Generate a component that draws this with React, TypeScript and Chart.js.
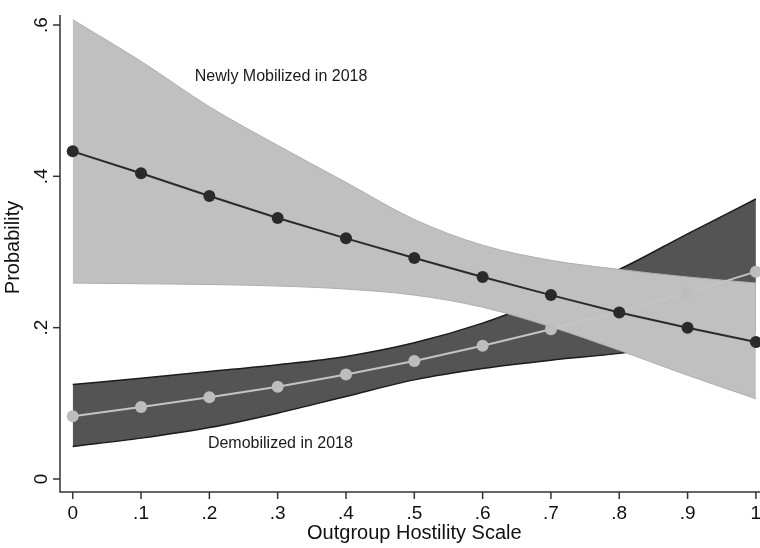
import React, { useEffect, useRef } from "react";
import { Chart, registerables } from "chart.js";

Chart.register(...registerables);

// ---- data ----
const xValues = [0, 0.1, 0.2, 0.3, 0.4, 0.5, 0.6, 0.7, 0.8, 0.9, 1];
const newlyMean = [0.433, 0.404, 0.374, 0.345, 0.318, 0.292, 0.267, 0.243, 0.22, 0.2, 0.181];
const newlyUpper = [0.607, 0.552, 0.492, 0.441, 0.392, 0.343, 0.309, 0.289, 0.277, 0.267, 0.259];
const newlyLower = [0.259, 0.258, 0.257, 0.255, 0.251, 0.243, 0.227, 0.201, 0.17, 0.137, 0.106];
const demobMean = [0.083, 0.095, 0.108, 0.122, 0.138, 0.156, 0.176, 0.198, 0.221, 0.246, 0.274];
const demobUpper = [0.125, 0.133, 0.142, 0.151, 0.162, 0.18, 0.206, 0.24, 0.277, 0.324, 0.37];
const demobLower = [0.043, 0.054, 0.068, 0.087, 0.109, 0.131, 0.146, 0.157, 0.166, 0.18, 0.195];

const xTicks = [0, 0.1, 0.2, 0.3, 0.4, 0.5, 0.6, 0.7, 0.8, 0.9, 1];
const xTickLabels = ["0", ".1", ".2", ".3", ".4", ".5", ".6", ".7", ".8", ".9", "1"];
const yTicks = [0, 0.2, 0.4, 0.6];
const yTickLabels = ["0", ".2", ".4", ".6"];

const xTitle = "Outgroup Hostility Scale";
const yTitle = "Probability";
const labelNewly = "Newly Mobilized in 2018";
const labelDemob = "Demobilized in 2018";

const FONT = '"Liberation Sans", Arial, Helvetica, sans-serif';

const pts = (ys: number[]) => xValues.map((x, i) => ({ x, y: ys[i] }));

const axesPlugin = {
  id: "stataAxes",
  afterDraw(chart: any) {
    const { ctx, chartArea, scales } = chart;
    const xs = scales.x;
    const ys = scales.y;
    ctx.save();
    ctx.strokeStyle = "#333333";
    ctx.lineWidth = 1.5;
    // axis lines
    ctx.beginPath();
    ctx.moveTo(chartArea.left, chartArea.top);
    ctx.lineTo(chartArea.left, chartArea.bottom);
    ctx.lineTo(chartArea.right, chartArea.bottom);
    ctx.stroke();
    // x ticks
    ctx.fillStyle = "#111111";
    ctx.font = `19px ${FONT}`;
    ctx.textAlign = "center";
    ctx.textBaseline = "middle";
    xTicks.forEach((v, i) => {
      const px = xs.getPixelForValue(v);
      ctx.beginPath();
      ctx.moveTo(px, chartArea.bottom);
      ctx.lineTo(px, chartArea.bottom + 7);
      ctx.stroke();
      ctx.fillText(xTickLabels[i], px, chartArea.bottom + 22);
    });
    // y ticks
    yTicks.forEach((v, i) => {
      const py = ys.getPixelForValue(v);
      ctx.beginPath();
      ctx.moveTo(chartArea.left, py);
      ctx.lineTo(chartArea.left - 7, py);
      ctx.stroke();
      ctx.save();
      ctx.translate(chartArea.left - 18, py);
      ctx.rotate(-Math.PI / 2);
      ctx.fillText(yTickLabels[i], 0, 0);
      ctx.restore();
    });
    // titles
    ctx.font = `20px ${FONT}`;
    ctx.fillText(xTitle, (xs.getPixelForValue(0) + xs.getPixelForValue(1)) / 2, chartArea.bottom + 41);
    ctx.save();
    ctx.translate(13, (chartArea.top + chartArea.bottom) / 2 - 6);
    ctx.rotate(-Math.PI / 2);
    ctx.fillText(yTitle, 0, 0);
    ctx.restore();
    // in-plot labels
    ctx.font = `16px ${FONT}`;
    ctx.fillStyle = "#1a1a1a";
    ctx.fillText(labelNewly, xs.getPixelForValue(0.305), ys.getPixelForValue(0.532));
    ctx.fillText(labelDemob, xs.getPixelForValue(0.304), ys.getPixelForValue(0.047));
    ctx.restore();
  },
};

export default function App() {
  const ref = useRef<HTMLCanvasElement | null>(null);
  useEffect(() => {
    if (!ref.current) return;
    const chart = new Chart(ref.current, {
      type: "line",
      data: {
        datasets: [
          {
            data: pts(demobUpper),
            fill: "+1",
            backgroundColor: "#545454",
            borderColor: "#1c1c1c",
            borderWidth: 1.5,
            pointRadius: 0,
            cubicInterpolationMode: "monotone",
            order: 6,
          },
          {
            data: pts(demobLower),
            fill: false,
            borderColor: "#1c1c1c",
            borderWidth: 1.5,
            pointRadius: 0,
            cubicInterpolationMode: "monotone",
            order: 5,
          },
          {
            data: pts(newlyUpper),
            fill: "+1",
            backgroundColor: "#c0c0c0",
            borderColor: "#adadad",
            borderWidth: 1,
            pointRadius: 0,
            cubicInterpolationMode: "monotone",
            order: 4,
          },
          {
            data: pts(newlyLower),
            fill: false,
            borderColor: "#adadad",
            borderWidth: 1,
            pointRadius: 0,
            cubicInterpolationMode: "monotone",
            order: 3,
          },
          {
            data: pts(demobMean),
            fill: false,
            borderColor: "#c4c4c4",
            borderWidth: 2,
            pointRadius: 6,
            pointBackgroundColor: "#bdbdbd",
            pointBorderWidth: 0,
            tension: 0,
            order: 2,
          },
          {
            data: pts(newlyMean),
            fill: false,
            borderColor: "#2a2a2a",
            borderWidth: 2,
            pointRadius: 6,
            pointBackgroundColor: "#2a2a2a",
            pointBorderWidth: 0,
            tension: 0,
            order: 1,
          },
        ],
      },
      options: {
        responsive: false,
        maintainAspectRatio: false,
        animation: false,
        events: [],
        layout: { autoPadding: false, padding: { top: 15, left: 0, right: 0, bottom: 0 } },
        plugins: {
          legend: { display: false },
          tooltip: { enabled: false },
          filler: { drawTime: "beforeDatasetDraw" },
        },
        scales: {
          x: {
            type: "linear",
            min: -0.0186,
            max: 1.006,
            grid: { display: false },
            border: { display: false },
            ticks: { display: false },
            afterFit: (s: any) => {
              s.height = 56;
            },
          },
          y: {
            type: "linear",
            min: -0.0172,
            max: 0.6132,
            grid: { display: false },
            border: { display: false },
            ticks: { display: false },
            afterFit: (s: any) => {
              s.width = 60;
            },
          },
        },
      },
      plugins: [axesPlugin],
    } as any);
    return () => chart.destroy();
  }, []);
  return (
    <div style={{ position: "absolute", left: 0, top: 0, width: 760, height: 548, background: "#ffffff" }}>
      <canvas ref={ref} width={760} height={548} style={{ display: "block" }} />
    </div>
  );
}
